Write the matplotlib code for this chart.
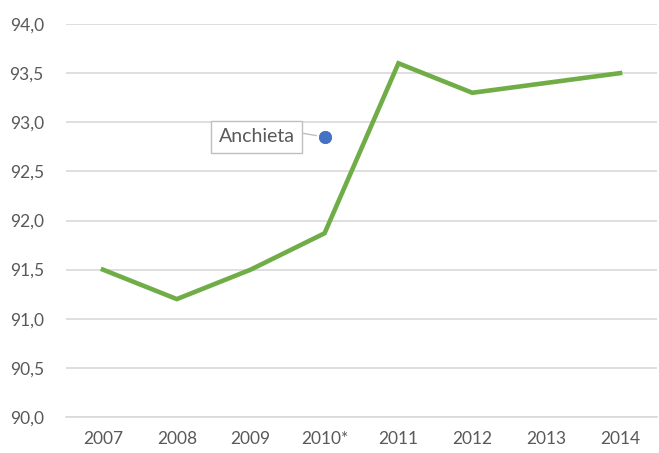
import matplotlib
matplotlib.use("Agg")
from matplotlib import pyplot as plt

years = ["2007", "2008", "2009", "2010*", "2011", "2012", "2013", "2014"]
valores = [91.5, 91.2, 91.5, 91.87, 93.6, 93.3, 93.4, 93.5]
anchieta_x = 3
anchieta_y = 92.85
yticks = [90.0, 90.5, 91.0, 91.5, 92.0, 92.5, 93.0, 93.5, 94.0]

plt.rcParams['font.family'] = ['Lato', 'DejaVu Sans']
txt = '#595959'

fig = plt.figure(figsize=(6.59, 4.53), dpi=100)
ax = fig.add_axes([66/659, 36/453, 591/659, 393/453])

x = list(range(len(years)))
ax.plot(x, valores, color='#70ad47', lw=3.3, solid_joinstyle='miter', zorder=3)
ax.scatter([anchieta_x], [anchieta_y], s=80, color='#4472c4', edgecolor='#3a64b0', lw=0.5, zorder=4)

ax.annotate("Anchieta", xy=(anchieta_x, anchieta_y), xytext=(-49, 0), textcoords='offset points',
            ha='center', va='center', fontsize=14, color=txt,
            bbox=dict(boxstyle='square,pad=0.4', fc='white', ec='#bfbfbf', lw=1),
            arrowprops=dict(arrowstyle='-', color='#bfbfbf', lw=1, shrinkA=0, shrinkB=6,
                            relpos=(1.0, 0.8)))

ax.set_xlim(-0.5, len(years) - 0.5)
ax.set_ylim(90, 94)
ax.set_yticks(yticks)
ax.set_yticklabels([("%.1f" % v).replace('.', ',') for v in yticks])
ax.set_xticks(x)
ax.set_xticklabels(years)
ax.grid(axis='y', color='#d9d9d9', lw=1.2)
ax.set_axisbelow(True)
for s in ['top', 'right', 'left']:
    ax.spines[s].set_visible(False)
ax.spines['bottom'].set_color('#d9d9d9')
ax.spines['bottom'].set_linewidth(1.2)
ax.tick_params(length=0, labelsize=12.5, colors=txt, pad=10)
ax.tick_params(axis='y', pad=16)

fig.savefig("out.png", dpi=100)
